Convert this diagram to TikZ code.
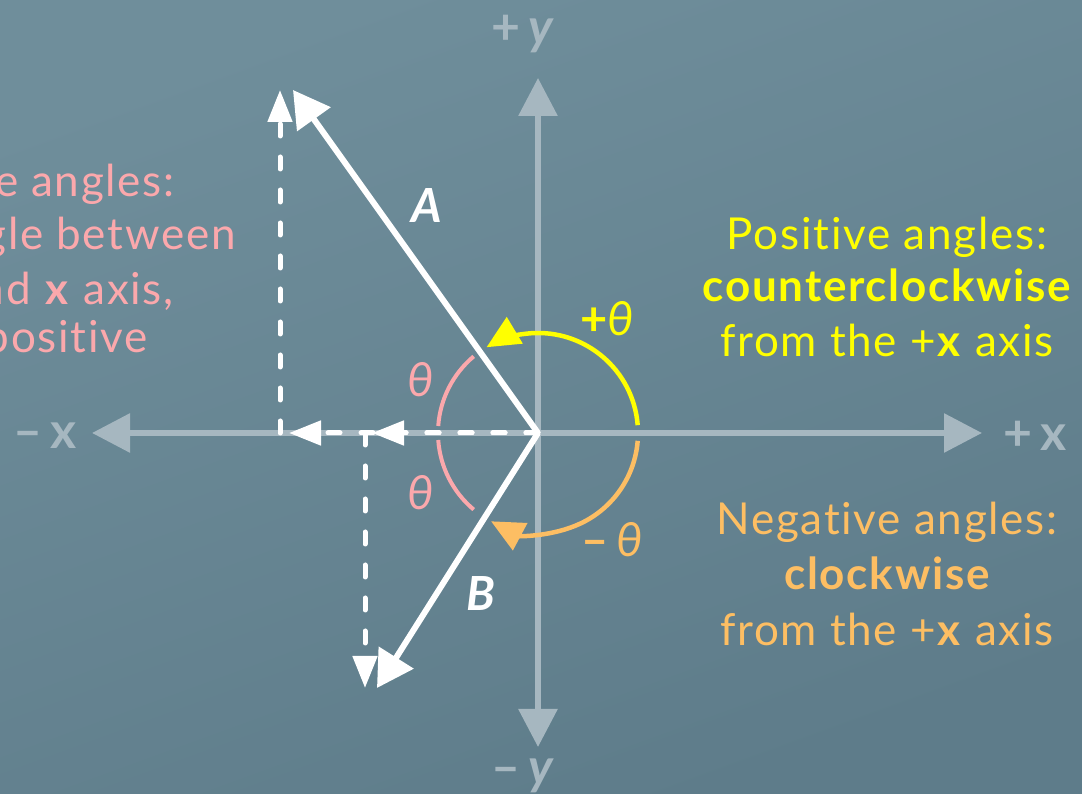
\documentclass[tikz,border=0pt]{standalone}
\usepackage{fontspec}
\setmainfont{Lato}[Ligatures=NoCommon,LetterSpace=4]
\usetikzlibrary{arrows.meta}
\definecolor{bgA}{HTML}{6F8E9B}
\definecolor{bgB}{HTML}{5E7C8A}
\definecolor{axisc}{HTML}{A6B7C0}
\definecolor{pinkc}{HTML}{FBA8AC}
\definecolor{yelc}{HTML}{FFFF00}
\definecolor{orac}{HTML}{FDBE63}
\begin{document}
\begin{tikzpicture}[x=1pt,y=1pt,
  axisline/.style={draw=axisc,line width=6pt,{Triangle[length=38pt,width=38pt]}-{Triangle[length=38pt,width=38pt]}},
  vec/.style={draw=white,line width=6pt,-{Triangle[length=36pt,width=40pt]}},
  comp/.style={draw=white,line width=5pt,line cap=round,dash pattern=on 12pt off 21pt,-{Triangle[length=32pt,width=24pt]}},
  pinkarc/.style={draw=pinkc,line width=4pt},
  yelarc/.style={draw=yelc,line width=4.5pt,-{Triangle[length=33pt,width=30pt]}},
  oraarc/.style={draw=orac,line width=4.5pt,-{Triangle[length=33pt,width=30pt]}},
  axlab/.style={inner sep=0pt,text=axisc,font=\fontsize{50}{56}\selectfont\bfseries},
  veclab/.style={inner sep=0pt,text=white,font=\fontsize{47}{52}\selectfont\bfseries\itshape},
  thlab/.style={inner sep=0pt,font=\fontsize{47}{52}\selectfont},
  txt/.style={inner sep=0pt,font=\fontsize{44}{50}\selectfont},
]
\shade[top color=bgA,bottom color=bgB,shading angle=20] (0,0) rectangle (1082,794);
\useasboundingbox (0,0) rectangle (1082,794);

% coordinates
\coordinate (O) at (538,361);
\coordinate (xl) at (92,361);
\coordinate (xr) at (982,361);
\coordinate (yb) at (538,47);
\coordinate (yt) at (538,716);
\coordinate (Atip) at (293,704);
\coordinate (Btip) at (377,106);
\coordinate (Ax) at (289,361);
\coordinate (Bx) at (372,361);
\coordinate (Ac) at (280,361);
\coordinate (Bc) at (365,361);
\coordinate (Ay) at (280,704);
\coordinate (By) at (365,106);

% axes
\draw[axisline] (xl) -- (xr);
\draw[axisline] (yb) -- (yt);

% arcs
\draw[pinkarc] (O) ++(176:100) arc[start angle=176,end angle=130,radius=100];
\draw[pinkarc] (O) ++(184:100) arc[start angle=184,end angle=230,radius=100];
\draw[yelarc] (O) ++(4.5:100) arc[start angle=4.5,end angle=121,radius=100];
\draw[oraarc] (O) ++(-4.5:100) arc[start angle=-4.5,end angle=-118,radius=100];

% components
\draw[comp] (O) -- (Ax);
\draw[comp] (O) -- (Bx);
\draw[comp] (Ac) -- (Ay);
\draw[comp] (Bc) -- (By);

% vectors
\draw[vec] (O) -- (Atip);
\draw[vec] (O) -- (Btip);

% labels
\node[veclab] (lA) at (427,588) {A};
\node[veclab] (lB) at (481,200) {B};
\node[thlab,text=pinkc] (th1) at (421,414) {\itshape θ};
\node[thlab,text=pinkc] (th2) at (421,301) {\itshape θ};
\node[thlab,text=yelc] (pth) at (607,475) {\bfseries +\mdseries\itshape θ};
\node[thlab,text=orac] (mth) at (612,254) {\bfseries –\,\mdseries\itshape θ};

\node[axlab] (ly1) at (522,760) {+\,\itshape y};
\node[axlab] (ly2) at (522,18) {–\,\itshape y};
\node[axlab] (lx1) at (45,358) {–\,x};
\node[axlab] (lx2) at (1035,358) {+\,x};

% right texts
\node[txt,text=yelc,anchor=base] (p1) at (887,544) {Positive angles:};
\node[txt,text=yelc,anchor=base] (p2) at (887,492) {\bfseries counterclockwise};
\node[txt,text=yelc,anchor=base] (p3) at (887,437) {from the +\textbf{x} axis};
\node[txt,text=orac,anchor=base] (n1) at (887,259) {Negative angles:};
\node[txt,text=orac,anchor=base] (n2) at (887,204) {\bfseries clockwise};
\node[txt,text=orac,anchor=base] (n3) at (887,148) {from the +\textbf{x} axis};

% left texts (cut by the edge)
\node[txt,text=pinkc,anchor=base east] (l1) at (175,597) {e angles:};
\node[txt,text=pinkc,anchor=base east] (l2) at (236,544) {gle between};
\node[txt,text=pinkc,anchor=base east] (l3) at (174,489) {nd \textbf{x} axis,};
\node[txt,text=pinkc,anchor=base east] (l4) at (148,441) {positive};
\end{tikzpicture}
\end{document}
